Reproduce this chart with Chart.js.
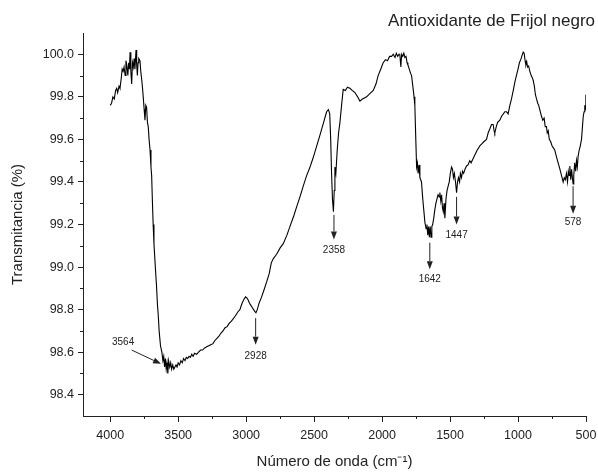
<!DOCTYPE html>
<html>
<head>
<meta charset="utf-8">
<script src="https://cdn.jsdelivr.net/npm/chart.js@4.4.0/dist/chart.umd.min.js"></script>
<style>
  html, body { margin: 0; padding: 0; background: #fff; }
</style>
</head>
<body>
<canvas id="chart" width="598" height="472"></canvas>
<script>
// FTIR spectrum
const wavenumbers = [
  4000, 3990, 3980, 3970, 3960, 3952, 3945, 3935, 3928, 3920, 3912, 3905, 3898, 3890, 3884, 3878,
  3870, 3864, 3858, 3854, 3848, 3842, 3836, 3830, 3824, 3818, 3810, 3805, 3800, 3795, 3790, 3781,
  3775, 3768, 3762, 3757, 3750, 3744, 3738, 3732, 3726, 3720, 3714, 3707, 3700, 3695, 3690, 3684,
  3678, 3668, 3660, 3652, 3646, 3640, 3630, 3620, 3612, 3606, 3600, 3594, 3588, 3582, 3576, 3570,
  3562, 3555, 3548, 3540, 3532, 3524, 3516, 3508, 3500, 3490, 3480, 3470, 3460, 3450, 3440, 3430,
  3420, 3410, 3400, 3390, 3380, 3364, 3350, 3335, 3320, 3305, 3290, 3275, 3260, 3244, 3230, 3215,
  3200, 3185, 3170, 3155, 3140, 3125, 3110, 3097, 3080, 3060, 3046, 3030, 3015, 3004, 2995, 2985,
  2975, 2965, 2955, 2945, 2935, 2928, 2918, 2905, 2886, 2870, 2849, 2830, 2815, 2800, 2776, 2750,
  2727, 2700, 2678, 2650, 2625, 2604, 2580, 2555, 2530, 2509, 2485, 2457, 2430, 2408, 2395, 2385,
  2378, 2372, 2365, 2358, 2352, 2347, 2340, 2330, 2320, 2310, 2298, 2286, 2270, 2255, 2237, 2220,
  2200, 2180, 2163, 2145, 2130, 2114, 2090, 2065, 2045, 2029, 2010, 1992, 1975, 1960, 1945, 1930,
  1918, 1905, 1895, 1885, 1875, 1869, 1862, 1856, 1848, 1840, 1832, 1824, 1816, 1810, 1800, 1790,
  1783, 1772, 1765, 1759, 1752, 1746, 1740, 1735, 1728, 1722, 1716, 1710, 1702, 1695, 1685, 1676,
  1670, 1664, 1658, 1652, 1646, 1640, 1634, 1628, 1620, 1612, 1604, 1596, 1588, 1580, 1575, 1568,
  1562, 1556, 1550, 1544, 1538, 1530, 1522, 1514, 1506, 1498, 1489, 1482, 1475, 1468, 1460, 1452,
  1445, 1438, 1430, 1424, 1416, 1408, 1400, 1390, 1379, 1368, 1355, 1345, 1330, 1315, 1300, 1290,
  1281, 1265, 1250, 1232, 1220, 1207, 1195, 1183, 1176, 1171, 1160, 1150, 1134, 1120, 1108, 1097,
  1085, 1073, 1060, 1048, 1035, 1023, 1012, 1000, 990, 980, 970, 962, 955, 948, 942, 936,
  930, 922, 913, 903, 895, 889, 880, 872, 864, 855, 848, 840, 828, 818, 808, 800,
  791, 785, 778, 770, 760, 750, 740, 730, 718, 705, 692, 680, 668, 660, 652, 644,
  636, 630, 624, 619, 612, 606, 600, 595, 590, 583, 576, 570, 564, 558, 550, 542,
  533, 526, 520, 514, 509, 504, 501
];
const transmittance = [
  99.76, 99.77, 99.80, 99.79, 99.83, 99.84, 99.82, 99.85, 99.84, 99.88, 99.93, 99.92, 99.94, 99.90, 99.97, 99.95,
  99.90, 99.96, 99.93, 100.01, 99.92, 99.86, 99.96, 99.94, 99.98, 99.93, 100.02, 99.95, 99.90, 99.96, 99.98, 99.97,
  99.92, 99.88, 99.84, 99.80, 99.74, 99.69, 99.76, 99.75, 99.68, 99.66, 99.60, 99.55, 99.47, 99.43, 99.32, 99.20,
  99.11, 99.00, 98.92, 98.82, 98.77, 98.70, 98.63, 98.60, 98.56, 98.58, 98.53, 98.57, 98.52, 98.55, 98.50, 98.56,
  98.53, 98.55, 98.52, 98.54, 98.52, 98.53, 98.54, 98.53, 98.55, 98.54, 98.56, 98.55, 98.57, 98.56, 98.575, 98.57,
  98.58, 98.575, 98.59, 98.58, 98.595, 98.59, 98.60, 98.61, 98.61, 98.62, 98.625, 98.63, 98.635, 98.64, 98.655, 98.665,
  98.675, 98.69, 98.70, 98.715, 98.72, 98.735, 98.745, 98.755, 98.77, 98.79, 98.80, 98.83, 98.85, 98.86, 98.855, 98.845,
  98.83, 98.82, 98.81, 98.80, 98.79, 98.785, 98.80, 98.83, 98.86, 98.89, 98.93, 98.97, 99.02, 99.04, 99.06, 99.09,
  99.11, 99.15, 99.19, 99.24, 99.29, 99.33, 99.38, 99.43, 99.47, 99.51, 99.56, 99.62, 99.68, 99.73, 99.74, 99.72,
  99.60, 99.45, 99.32, 99.26, 99.36, 99.47, 99.44, 99.55, 99.63, 99.68, 99.76, 99.835, 99.83, 99.845, 99.84, 99.83,
  99.82, 99.80, 99.78, 99.79, 99.795, 99.80, 99.815, 99.83, 99.86, 99.90, 99.93, 99.96, 99.975, 99.97, 99.99, 99.99,
  100.00, 99.985, 100.005, 99.99, 100.00, 99.995, 99.94, 100.00, 99.99, 100.005, 99.985, 99.99, 99.96, 99.95, 99.93, 99.91,
  99.90, 99.84, 99.80, 99.76, 99.60, 99.47, 99.49, 99.44, 99.48, 99.42, 99.41, 99.40, 99.33, 99.28, 99.21, 99.18,
  99.20, 99.15, 99.19, 99.14, 99.19, 99.14, 99.19, 99.20, 99.23, 99.27, 99.30, 99.32, 99.34, 99.33, 99.35, 99.31,
  99.34, 99.28, 99.26, 99.30, 99.23, 99.32, 99.36, 99.38, 99.40, 99.44, 99.47, 99.46, 99.42, 99.44, 99.40, 99.35,
  99.40, 99.42, 99.40, 99.44, 99.42, 99.45, 99.44, 99.46, 99.475, 99.48, 99.50, 99.49, 99.51, 99.53, 99.55, 99.56,
  99.57, 99.58, 99.59, 99.60, 99.63, 99.65, 99.67, 99.67, 99.64, 99.63, 99.66, 99.68, 99.69, 99.71, 99.72, 99.73,
  99.73, 99.72, 99.76, 99.79, 99.83, 99.87, 99.90, 99.93, 99.96, 99.975, 99.995, 100.01, 100.005, 99.97, 99.95, 99.965,
  99.94, 99.945, 99.92, 99.90, 99.89, 99.88, 99.85, 99.81, 99.79, 99.77, 99.76, 99.74, 99.71, 99.69, 99.70, 99.66,
  99.66, 99.63, 99.64, 99.60, 99.59, 99.57, 99.56, 99.55, 99.52, 99.49, 99.46, 99.43, 99.40, 99.42, 99.41, 99.44,
  99.40, 99.45, 99.43, 99.475, 99.41, 99.46, 99.42, 99.39, 99.43, 99.49, 99.45, 99.50, 99.47, 99.52, 99.55, 99.57,
  99.60, 99.66, 99.71, 99.73, 99.76, 99.74, 99.81
];

const xTicks = [4000, 3500, 3000, 2500, 2000, 1500, 1000, 500];
const yTicks = [98.4, 98.6, 98.8, 99.0, 99.2, 99.4, 99.6, 99.8, 100.0];

// peak marks: label text, arrow start / tip, label position (data units)
const peakLabels = ['3564', '2928', '2358', '1642', '1447', '578'];
const arrowFromX = [3842, 2930, 2354, 1649, 1452, 595];
const arrowFromY = [98.61, 98.76, 99.245, 99.115, 99.33, 99.38];
const arrowToX   = [3626, 2930, 2354, 1649, 1452, 595];
const arrowToY   = [98.545, 98.635, 99.13, 98.99, 99.20, 99.25];
const labelX     = [3905, 2930, 2354, 1649, 1452, 595];
const labelY     = [98.645, 98.58, 99.08, 98.945, 99.15, 99.21];

const FONT = "'Liberation Sans', Arial, sans-serif";
const INK = '#222';

const points = wavenumbers.map((w, i) => ({ x: w, y: transmittance[i] }));

// minor ticks, title and the peak arrows
const decorations = {
  id: 'decorations',
  afterDraw(chart) {
    const { ctx, scales: { x, y }, chartArea } = chart;
    ctx.save();
    ctx.strokeStyle = INK;
    ctx.fillStyle = INK;
    ctx.lineWidth = 1;

    // minor ticks
    ctx.beginPath();
    for (let w = 750; w <= 4200; w += 500) {
      const px = Math.round(x.getPixelForValue(w)) + 0.5;
      ctx.moveTo(px, chartArea.bottom);
      ctx.lineTo(px, chartArea.bottom + 3);
    }
    for (let v = 98.5; v < 100.1; v += 0.2) {
      const py = Math.round(y.getPixelForValue(v)) + 0.5;
      ctx.moveTo(chartArea.left, py);
      ctx.lineTo(chartArea.left - 3, py);
    }
    ctx.stroke();

    // title
    ctx.font = '17px ' + FONT;
    ctx.textAlign = 'right';
    ctx.textBaseline = 'alphabetic';
    ctx.fillText('Antioxidante de Frijol negro', 595, 26);

    // arrows
    ctx.font = '10px ' + FONT;
    ctx.textAlign = 'center';
    ctx.textBaseline = 'middle';
    peakLabels.forEach((lab, i) => {
      const x1 = x.getPixelForValue(arrowFromX[i]);
      const y1 = y.getPixelForValue(arrowFromY[i]);
      const x2 = x.getPixelForValue(arrowToX[i]);
      const y2 = y.getPixelForValue(arrowToY[i]);
      const ang = Math.atan2(y2 - y1, x2 - x1);
      const head = 8, half = 3;
      const bx = x2 - head * Math.cos(ang);
      const by = y2 - head * Math.sin(ang);
      ctx.beginPath();
      ctx.moveTo(x1, y1);
      ctx.lineTo(bx, by);
      ctx.stroke();
      ctx.beginPath();
      ctx.moveTo(x2, y2);
      ctx.lineTo(bx + half * Math.sin(ang), by - half * Math.cos(ang));
      ctx.lineTo(bx - half * Math.sin(ang), by + half * Math.cos(ang));
      ctx.closePath();
      ctx.fill();
      ctx.fillText(lab, x.getPixelForValue(labelX[i]), y.getPixelForValue(labelY[i]));
    });
    ctx.restore();
  }
};

new Chart(document.getElementById('chart'), {
  type: 'line',
  data: {
    datasets: [{
      data: points,
      borderColor: '#000',
      borderWidth: 1.1,
      pointRadius: 0,
      tension: 0,
      fill: false
    }]
  },
  options: {
    responsive: false,
    animation: false,
    devicePixelRatio: 1,
    layout: { padding: { top: 33, right: 12, left: 0, bottom: 0 } },
    plugins: { legend: { display: false }, tooltip: { enabled: false } },
    scales: {
      x: {
        type: 'linear',
        reverse: true,
        min: 500,
        max: 4200,
        afterBuildTicks: s => { s.ticks = xTicks.map(v => ({ value: v })); },
        afterFit: s => { s.height = 56; s.paddingLeft = 0; s.paddingRight = 0; },
        grid: { drawOnChartArea: false, tickLength: 6, color: INK },
        border: { color: INK, width: 1 },
        ticks: { color: INK, font: { family: FONT, size: 12.5 }, padding: 6, maxRotation: 0, autoSkip: false, callback: v => String(v) },
        title: { display: true, text: 'Número de onda (cm⁻¹)', color: INK, font: { family: FONT, size: 15 }, padding: { top: 0, bottom: 1 } }
      },
      y: {
        min: 98.3,
        max: 100.1,
        afterBuildTicks: s => { s.ticks = yTicks.map(v => ({ value: v })); },
        afterFit: s => { s.width = 83; },
        grid: { drawOnChartArea: false, tickLength: 5, color: INK },
        border: { color: INK, width: 1 },
        ticks: { color: INK, font: { family: FONT, size: 12.5 }, padding: 4, callback: v => v.toFixed(1) },
        title: { display: true, text: 'Transmitancia (%)', color: INK, font: { family: FONT, size: 15 }, padding: { top: 9, bottom: 0 } }
      }
    }
  },
  plugins: [decorations]
});
</script>
</body>
</html>
